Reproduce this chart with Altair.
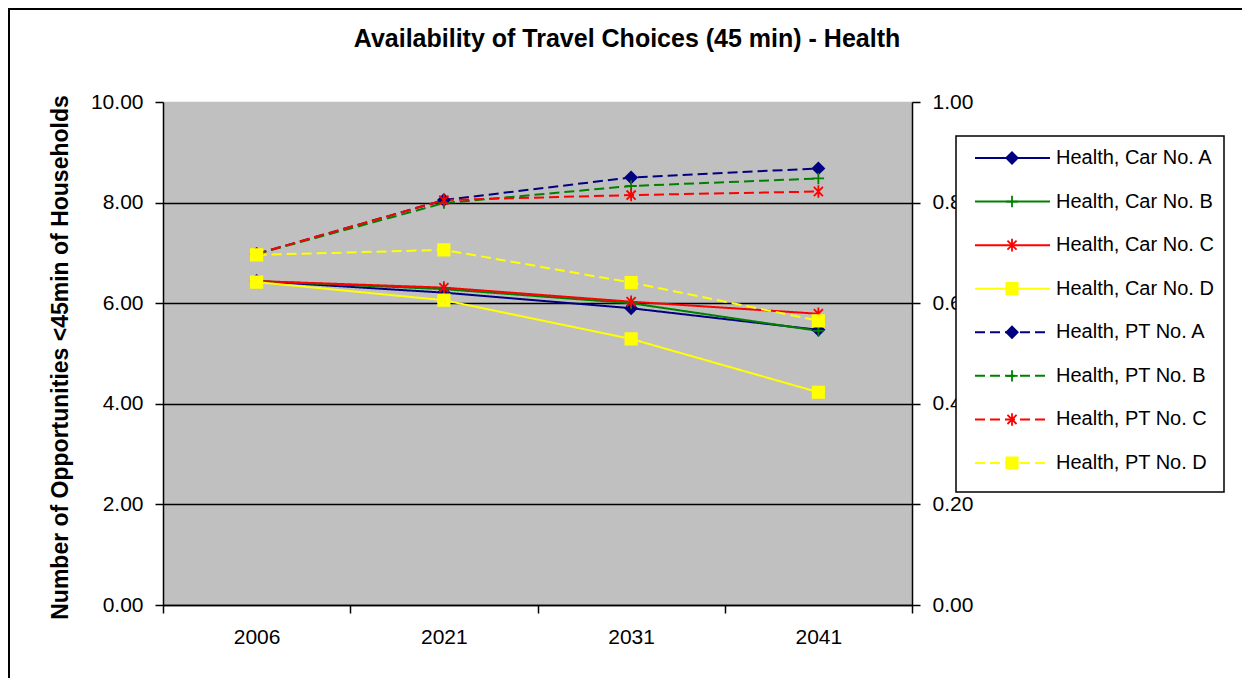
import altair as alt
import pandas as pd

# ---------------- data ----------------
years = ["2006", "2021", "2031", "2041"]
series_names = [
    "Health, Car No. A", "Health, Car No. B", "Health, Car No. C", "Health, Car No. D",
    "Health, PT No. A", "Health, PT No. B", "Health, PT No. C", "Health, PT No. D",
]
series_modes = ["Car", "Car", "Car", "Car", "PT", "PT", "PT", "PT"]
car_a = [6.44, 6.21, 5.90, 5.47]
car_b = [6.44, 6.28, 6.00, 5.45]
car_c = [6.44, 6.31, 6.03, 5.79]
car_d = [6.42, 6.06, 5.29, 4.23]
pt_a = [6.98, 8.05, 8.50, 8.68]
pt_b = [6.98, 7.99, 8.33, 8.48]
pt_c = [6.98, 8.05, 8.15, 8.22]
pt_d = [6.96, 7.06, 6.41, 5.65]
left_ticks = [0, 2, 4, 6, 8, 10]
right_ticks = [0, 0.2, 0.4, 0.6, 0.8, 1.0]

series_colors = ["#000080", "#008000", "#FF0000", "#FFFF00",
                 "#000080", "#008000", "#FF0000", "#FFFF00"]
PLUS = "M0,-1L0,1M-1,0L1,0"
STAR = "M-0.8,-0.8L0.8,0.8M-0.8,0.8L0.8,-0.8M0,-1.1L0,1.1"
series_shapes = ["diamond", PLUS, STAR, "square", "diamond", PLUS, STAR, "square"]

values = [car_a, car_b, car_c, car_d, pt_a, pt_b, pt_c, pt_d]
rows = []
for name, mode, vals in zip(series_names, series_modes, values):
    for yr, v in zip(years, vals):
        rows.append({"year": yr, "value": v, "series": name, "mode": mode})
df = pd.DataFrame(rows)
legend_df = pd.DataFrame({"series": series_names, "mode": series_modes})

FONT = "Liberation Sans"
W, H = 749, 503

color_scale = alt.Scale(domain=series_names, range=series_colors)
shape_scale = alt.Scale(domain=series_names, range=series_shapes)
dash_scale = alt.Scale(domain=["Car", "PT"], range=[[1, 0], [10, 5]])

x_enc = alt.X(
    "year:N",
    scale=alt.Scale(type="band", domain=years, paddingInner=0, paddingOuter=0),
    axis=alt.Axis(
        title=None, tickBand="extent", tickSize=8, tickColor="black", tickWidth=1.5,
        domainColor="black", domainWidth=1.5, labelColor="black", labelFont=FONT,
        labelFontSize=21, labelPadding=13, labelAngle=0, grid=False,
    ),
)
y_scale = alt.Scale(domain=[0, 10], nice=False, zero=True)

lines = alt.Chart(df).mark_line(strokeWidth=2).encode(
    x=x_enc,
    y=alt.Y(
        "value:Q", scale=y_scale,
        axis=alt.Axis(
            values=left_ticks, format=".2f", tickSize=8, tickColor="black", tickWidth=1.5,
            domainColor="black", domainWidth=1.5, labelColor="black", labelFont=FONT,
            labelFontSize=21, labelPadding=12, grid=True, gridWidth=1.5,
            gridColor={"condition": {"test": "datum.value === 10", "value": "#C0C0C0"},
                       "value": "black"},
            title="Number of Opportunities <45min of Households",
            titleFont=FONT, titleFontSize=23, titleFontWeight="bold", titleColor="black",
            titleX=-103, titleY=255, titleBaseline="middle", titleAngle=270,
        ),
    ),
    color=alt.Color("series:N", scale=color_scale, legend=None),
    strokeDash=alt.StrokeDash("mode:N", scale=dash_scale, legend=None),
    detail="series:N",
)

points = alt.Chart(df).mark_point(filled=True, size=130, strokeWidth=1.8, opacity=1).encode(
    x=x_enc,
    y=alt.Y("value:Q", scale=y_scale, axis=None),
    color=alt.Color("series:N", scale=color_scale, legend=None),
    stroke=alt.Stroke("series:N", scale=color_scale, legend=None),
    shape=alt.Shape("series:N", scale=shape_scale, legend=None),
)

right_axis = alt.Chart(pd.DataFrame({"r": right_ticks})).mark_point(opacity=0).encode(
    y=alt.Y(
        "r:Q", scale=alt.Scale(domain=[0, 1], nice=False),
        axis=alt.Axis(
            orient="right", values=right_ticks, format=".2f", tickSize=8, tickColor="black",
            tickWidth=1.5, domainColor="black", domainWidth=1.5, labelColor="black",
            labelFont=FONT, labelFontSize=21, labelPadding=12, grid=False, title=None,
        ),
    ),
)

# outer chart border (decoration)
frame = alt.Chart(pd.DataFrame({"k": [0]})).mark_rect(
    fill="white", fillOpacity=0, stroke="black", strokeWidth=2
).encode(
    x=alt.value(-154), x2=alt.value(1080), y=alt.value(-93), y2=alt.value(600)
)

# legend box and entries
legend_box = alt.Chart(pd.DataFrame({"k": [0]})).mark_rect(
    fill="white", stroke="black", strokeWidth=1.5
).encode(
    x=alt.value(793), x2=alt.value(1061), y=alt.value(34), y2=alt.value(390)
)
leg_y = alt.Y("series:N", scale=alt.Scale(type="point", domain=series_names,
                                          range=[56, 361], padding=0), axis=None)
legend_lines = alt.Chart(legend_df).mark_rule(strokeWidth=2).encode(
    x=alt.value(812), x2=alt.value(887), y=leg_y,
    color=alt.Color("series:N", scale=color_scale, legend=None),
    strokeDash=alt.StrokeDash("mode:N", scale=dash_scale, legend=None),
)
legend_points = alt.Chart(legend_df).mark_point(filled=True, size=130, strokeWidth=1.8, opacity=1).encode(
    x=alt.value(849), y=leg_y,
    color=alt.Color("series:N", scale=color_scale, legend=None),
    stroke=alt.Stroke("series:N", scale=color_scale, legend=None),
    shape=alt.Shape("series:N", scale=shape_scale, legend=None),
)
legend_text = alt.Chart(legend_df).mark_text(
    align="left", baseline="middle", font=FONT, fontSize=20, color="black"
).encode(
    x=alt.value(893), y=leg_y, text="series:N",
)

chart = alt.layer(
    frame, lines, points, right_axis, legend_box, legend_lines, legend_points, legend_text
).resolve_scale(
    y="independent"
).properties(
    width=W, height=H,
    title=alt.TitleParams(
        "Availability of Travel Choices (45 min) - Health",
        font=FONT, fontSize=25, fontWeight="bold", color="black",
        anchor="middle", frame="group", dx=89.5, offset=-64, baseline="alphabetic",
    ),
    autosize=alt.AutoSizeParams(type="none"),
    padding={"left": 155, "top": 94, "right": 330, "bottom": 73},
    background="white",
).configure_view(
    fill="#C0C0C0", stroke="#808080", strokeWidth=1
)

chart.save("out.html", embed_options={"renderer": "svg", "actions": False})
